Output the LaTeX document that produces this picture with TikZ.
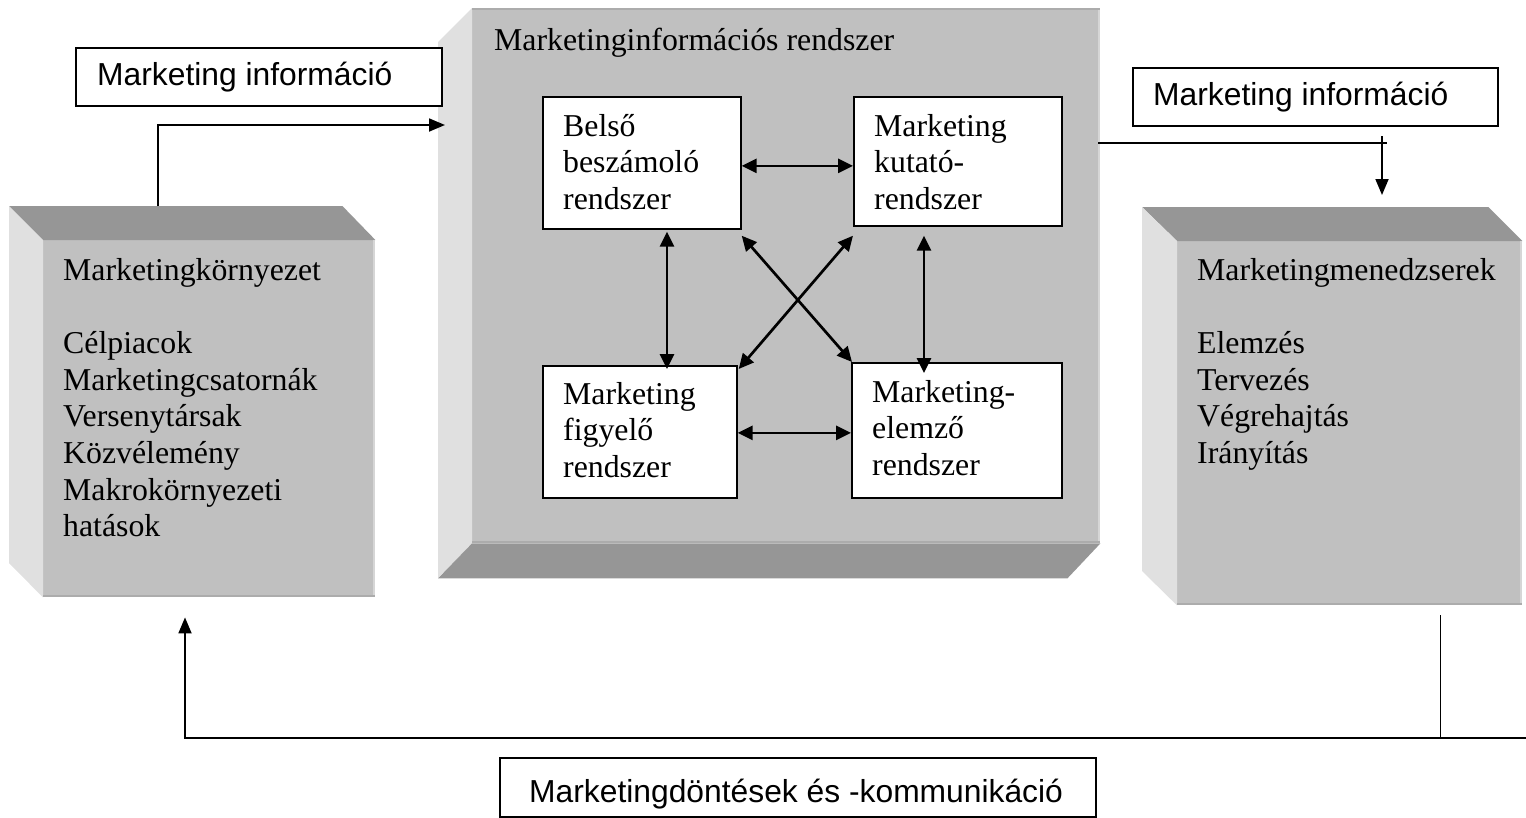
\documentclass[tikz,border=0pt]{standalone}
\usepackage{fontspec}
\setmainfont{Liberation Serif}
\setsansfont{Liberation Sans}
\usetikzlibrary{arrows.meta,calc}
\definecolor{facefront}{HTML}{C0C0C0}
\definecolor{facedark}{HTML}{969696}
\definecolor{facelight}{HTML}{E0E0E0}
\definecolor{edgelight}{HTML}{D6D6D6}
\definecolor{edgedark}{HTML}{ACACAC}
\newcommand\txtlines[1]{\begin{tabular}[t]{@{}l@{}}#1\end{tabular}}
\begin{document}
\begin{tikzpicture}[x=1pt,y=-1pt,
  front/.style={fill=facefront, draw=none, inner sep=0, anchor=north west},
  darkface/.style={fill=facedark},
  lightface/.style={fill=facelight},
  rimlight/.style={draw=edgelight, line width=2.5pt},
  rimdark/.style={draw=edgedark, line width=2.5pt},
  subbox/.style={draw, fill=white, line width=1.7pt, inner sep=0, anchor=north west},
  infobox/.style={draw, fill=white, line width=1.7pt, inner sep=0, anchor=north west},
  serif/.style={anchor=base west, inner sep=0, font=\fontsize{31.8pt}{36.7pt}\selectfont},
  sans/.style={anchor=base west, inner sep=0, font=\sffamily\fontsize{31.8pt}{36.7pt}\selectfont},
  biarrow/.style={{Triangle[length=15pt,width=14pt]}-{Triangle[length=15pt,width=14pt]}, line width=2.7pt},
  conn/.style={line width=1.8pt},
  arr/.style={-{Triangle[length=16pt,width=13pt]}, line width=1.8pt}
]
\useasboundingbox (0,0) rectangle (1526,817);

% ---------- left 3D box: Marketingkörnyezet ----------
\node[front, minimum width=332pt, minimum height=357pt] (env) at (43,240) {};
\fill[darkface] (env.north west) -- ++(-34,-34) -- ([xshift=-33pt,yshift=34pt]env.north east) -- (env.north east) -- cycle;
\fill[lightface] (env.north west) -- ++(-34,-34) -- ++(0,357) -- (env.south west) -- cycle;
\draw[rimlight] ([xshift=-1.25pt]env.north east) -- ([xshift=-1.25pt]env.south east);
\draw[rimdark] ([yshift=1.25pt]env.south west) -- ([yshift=1.25pt]env.south east);
\node[serif] (envT) at (63,280) {\txtlines{Marketingkörnyezet\\ \\ Célpiacok\\ Marketingcsatornák\\ Versenytársak\\ Közvélemény\\ Makrokörnyezeti\\ hatások}};

% ---------- right 3D box: Marketingmenedzserek ----------
\node[front, minimum width=345pt, minimum height=364pt] (mgr) at (1177,241) {};
\fill[darkface] (mgr.north west) -- ++(-35,-34) -- ([xshift=-34pt,yshift=34pt]mgr.north east) -- (mgr.north east) -- cycle;
\fill[lightface] (mgr.north west) -- ++(-35,-34) -- ++(0,364) -- (mgr.south west) -- cycle;
\draw[rimlight] ([xshift=-1.25pt]mgr.north east) -- ([xshift=-1.25pt]mgr.south east);
\draw[rimdark] ([yshift=1.25pt]mgr.south west) -- ([yshift=1.25pt]mgr.south east);
\node[serif] (mgrT) at (1197,280) {\txtlines{Marketingmenedzserek\\ \\ Elemzés\\ Tervezés\\ Végrehajtás\\ Irányítás}};

% ---------- centre 3D box: Marketinginformációs rendszer ----------
\node[front, minimum width=628pt, minimum height=535pt] (mis) at (472,8) {};
\fill[lightface] (mis.north west) -- ++(-34,34) -- ++(0,536) -- (mis.south west) -- cycle;
\fill[darkface] (mis.south west) -- ++(-34,35) -- ([xshift=-33pt,yshift=-35pt]mis.south east) -- (mis.south east) -- cycle;
\draw[rimlight] ([xshift=-1.25pt]mis.north east) -- ([xshift=-1.25pt]mis.south east);
\draw[rimdark] ([yshift=1.25pt]mis.south west) -- ([yshift=1.25pt]mis.south east);
\draw[rimdark, line width=1.5pt] ([yshift=-0.75pt]mis.north west) -- ([yshift=-0.75pt]mis.north east);
\node[serif] (misT) at (494,50) {Marketinginformációs rendszer};

% inner subsystem boxes
\node[subbox, minimum width=198pt, minimum height=132pt] (belso) at (542,96) {};
\node[subbox, minimum width=208pt, minimum height=129pt] (kutato) at (853,96) {};
\node[subbox, minimum width=194pt, minimum height=132pt] (figyelo) at (542,365) {};
\node[subbox, minimum width=210pt, minimum height=135pt] (elemzo) at (851,362) {};
\node[serif] (belsoT) at (563,136) {\txtlines{Belső\\ beszámoló\\ rendszer}};
\node[serif] (kutatoT) at (874,136) {\txtlines{Marketing\\ kutató-\\ rendszer}};
\node[serif] (figyeloT) at (563,404) {\txtlines{Marketing\\ figyelő\\ rendszer}};
\node[serif] (elemzoT) at (872,402) {\txtlines{Marketing-\\ elemző\\ rendszer}};

% inner arrows
\coordinate (vl) at (667,300);
\coordinate (vr) at (924,300);
\draw[biarrow] ([yshift=-3pt]belso.east) -- ([yshift=-3pt]kutato.west |- belso.east);
\draw[biarrow] ([yshift=-1pt]figyelo.east) -- ([yshift=-1pt]elemzo.west |- figyelo.east);
\draw[biarrow] ([yshift=-2pt]belso.south -| vl) -- ([yshift=-4pt]figyelo.north -| vl);
\draw[biarrow] ([yshift=-9pt]kutato.south -| vr) -- ([yshift=-11pt]elemzo.north -| vr);
\draw[biarrow] ([yshift=-6pt]belso.south east) -- ([xshift=1pt]elemzo.north west);
\draw[biarrow] ([yshift=-9pt]kutato.south west) -- ([xshift=1pt,yshift=-4pt]figyelo.north east);

% ---------- information labels ----------
\node[infobox, minimum width=366pt, minimum height=58pt] (infoL) at (75,47) {};
\node[sans] (infoLT) at (97,85) {Marketing információ};
\node[infobox, minimum width=365pt, minimum height=58pt] (infoR) at (1132,67) {};
\node[sans] (infoRT) at (1153,105) {Marketing információ};
\node[infobox, minimum width=596pt, minimum height=59pt] (dec) at (499,757) {};
\node[sans] (decT) at (529,802) {Marketingdöntések és -kommunikáció};

% ---------- outer connectors ----------
\coordinate (inL) at (445,125);
\draw[arr] ([xshift=115pt,yshift=34pt]env.north west) |- ([xshift=-27pt]mis.west |- inL);

\coordinate (outR) at (1387,143);
\draw[conn] ([xshift=-2pt]mis.east |- outR) -- (outR);
\draw[arr] ([xshift=205pt,yshift=105pt]mgr.north west) -- ([xshift=205pt,yshift=46pt]mgr.north west);

\coordinate (fbR) at (1526,738);
\draw[conn] ([xshift=-82pt,yshift=-10pt]mgr.south east) -- ([xshift=-82pt]mgr.south east |- fbR);
\draw[arr] (fbR) -| ([xshift=142pt,yshift=-20pt]env.south west);
\end{tikzpicture}
\end{document}
